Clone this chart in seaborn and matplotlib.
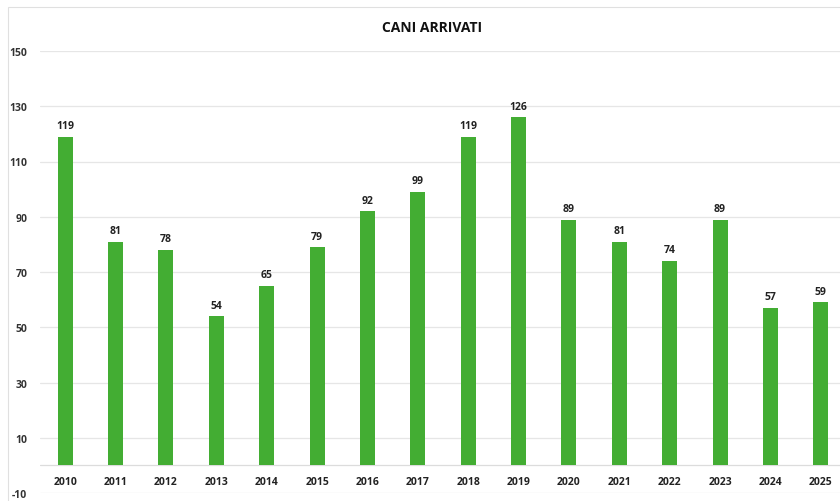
import seaborn as sns
import pandas as pd
import matplotlib.pyplot as plt
from matplotlib.patches import Rectangle

# Dati
anni = ['2010', '2011', '2012', '2013', '2014', '2015', '2016', '2017',
        '2018', '2019', '2020', '2021', '2022', '2023', '2024', '2025']
cani = [119, 81, 78, 54, 65, 79, 92, 99, 119, 126, 89, 81, 74, 89, 57, 59]
y_ticks = [-10, 10, 30, 50, 70, 90, 110, 130, 150]

df = pd.DataFrame({'anno': anni, 'cani': cani})

sns.set_style("white")
plt.rcParams['font.family'] = ['Open Sans', 'DejaVu Sans']

fig = plt.figure(figsize=(8.4, 5.02), dpi=100)
ax = fig.add_axes([40 / 840, 8 / 502, 806 / 840, 442 / 502])

sb = sns.barplot(data=df, x='anno', y='cani', color='#43ad33', width=0.3,
                 saturation=1, linewidth=0, ax=ax, zorder=3)

# etichette valori
for i, v in enumerate(df['cani']):
    ax.annotate(str(v), (i, v), xytext=(0, 4), textcoords='offset points',
                ha='center', va='bottom', fontsize=7.5, fontweight='bold',
                color='#222222')

# etichette anni dentro l'area
for i, a in enumerate(df['anno']):
    ax.text(i, -6, a, ha='center', va='center', fontsize=7.5,
            fontweight='bold', color='#222222')

ax.set_xlim(-0.5, 15.5)
ax.set_ylim(-10, 150)
ax.set_yticks(y_ticks)
ax.set_yticklabels([str(t) for t in y_ticks], fontsize=7.5, fontweight='bold',
                   color='#333333')
ax.set_xticks([])
ax.tick_params(axis='y', length=0, pad=9)
ax.grid(axis='y', color='#e6e6e6', linewidth=0.9, zorder=0)
ax.axhline(0, color='#dcdcdc', linewidth=0.9, zorder=1)
for s in ax.spines.values():
    s.set_visible(False)
ax.set_xlabel('')
ax.set_ylabel('')

fig.text(432 / 840, 1 - 28 / 502, 'CANI ARRIVATI', ha='center', va='center',
         fontsize=10, fontweight='bold', color='#111111')

# cornice del grafico
fig.patches.append(Rectangle((8 / 840, -0.1), 1.2, 1.1 - 8 / 502,
                             transform=fig.transFigure, fill=False,
                             edgecolor='#e0e0e0', linewidth=0.8))

fig.savefig('out.png', dpi=100)
